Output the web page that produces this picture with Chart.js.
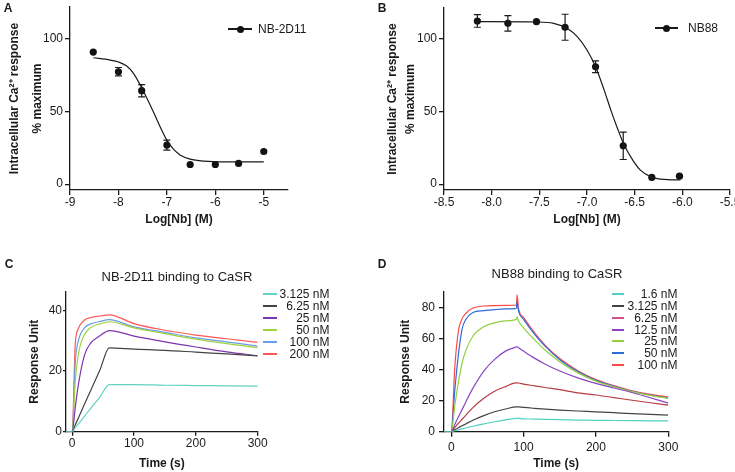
<!DOCTYPE html>
<html>
<head>
<meta charset="utf-8">
<script src="https://cdn.jsdelivr.net/npm/chart.js@4.4.1/dist/chart.umd.min.js"></script>
<style>
body { margin: 0; background: #fff; }
#wrap { position: relative; width: 735px; height: 472px; overflow: hidden; font-family: "Liberation Sans", Arial, sans-serif; color: #1a1a1a; }
canvas { position: absolute; }
.letter { position: absolute; font-weight: bold; font-size: 12px; line-height: 12px; transform: translate(-50%, -50%); }
.ttl { position: absolute; font-size: 13px; line-height: 14px; white-space: nowrap; transform: translate(-50%, -50%); }
.leg { position: absolute; font-size: 12px; line-height: 12px; white-space: nowrap; }
.seg { position: absolute; height: 2px; }
.dot { position: absolute; width: 7px; height: 7px; border-radius: 50%; background: #111; }
</style>
</head>
<body>
<div id="wrap">
  <canvas id="chartA" width="367" height="232" style="left:0;top:0"></canvas>
  <canvas id="chartB" width="368" height="232" style="left:367px;top:0"></canvas>
  <canvas id="chartC" width="367" height="240" style="left:0;top:232px"></canvas>
  <canvas id="chartD" width="368" height="240" style="left:367px;top:232px"></canvas>

  <div class="letter" style="left:8px;top:8px">A</div>
  <div class="letter" style="left:382px;top:8px">B</div>
  <div class="letter" style="left:9px;top:264px">C</div>
  <div class="letter" style="left:382px;top:264px">D</div>

  <div class="ttl" style="left:177px;top:277px">NB-2D11 binding to CaSR</div>
  <div class="ttl" style="left:557px;top:274px">NB88 binding to CaSR</div>
  <div id="legends"></div>
</div>

<script>
// ---- A: NB-2D11 dose response ----
const logNbA = [-8.52, -8, -7.52, -7, -6.52, -6, -5.52, -5];
const respA = [90.6, 77.1, 64.1, 26.8, 13.5, 13.5, 14.2, 22.4];
const errA = [0, 2.9, 4.2, 3.4, 0, 0, 0, 0];
const fitXA = [-8.52, -8.17, -8.0, -7.83, -7.69, -7.55, -7.41, -7.28, -7.14, -7.0, -6.86, -6.72, -6.52, -6.24, -5.76, -5.0];
const fitYA = [86.7, 85.1, 83.8, 81, 76, 68, 58.8, 49.7, 39.4, 30.2, 23.8, 19.9, 17.2, 15.8, 15.3, 15.3];
const xTicksA = [-9, -8, -7, -6, -5];
const yTicksAB = [0, 50, 100];

// ---- B: NB88 dose response ----
const logNbB = [-8.15, -7.83, -7.53, -7.23, -6.91, -6.62, -6.32, -6.03];
const respB = [111.9, 110.3, 111.4, 107.6, 80.5, 26.3, 4.6, 5.5];
const errB = [4.3, 5.3, 0, 8.9, 4, 9.4, 0, 0];
const fitXB = [-8.15, -7.52, -7.35, -7.21, -7.10, -7.0, -6.91, -6.82, -6.75, -6.68, -6.61, -6.52, -6.44, -6.33, -6.23, -6.12, -6.02];
const fitYB = [111.4, 111.2, 110.3, 106.9, 101, 92, 80.5, 64.5, 50.8, 38.2, 26.8, 16.5, 9.6, 5, 3.4, 3, 2.9];
const xTicksB = [-8.5, -8.0, -7.5, -7.0, -6.5, -6.0, -5.5];
const xLabelsB = ['-8.5', '-8.0', '-7.5', '-7.0', '-6.5', '-6.0', '-5.5'];

// ---- C: NB-2D11 binding (SPR) ----
const timeC = [-10, 0, 5, 10, 20, 30, 45, 60, 100, 150, 200, 250, 300];
const c3125 = [0, 0, 1.3, 2.6, 5.1, 7.7, 11.5, 15.5, 15.5, 15.3, 15.2, 15.1, 15];
const c625 = [0, 0, 2.3, 4.5, 9.1, 13.6, 20.4, 27.6, 27.2, 26.8, 26.2, 25.6, 25];
const c25 = [0, 0, 8, 15.5, 25.3, 29.2, 31.6, 33.3, 31.5, 29.6, 27.9, 26.3, 25];
const c50 = [0, 0, 16.5, 25.5, 32, 34.3, 35.5, 36.2, 34.2, 32.3, 30.5, 29, 27.7];
const c100 = [0, 0, 23, 30, 34.2, 35.5, 36.3, 36.9, 34.5, 32.7, 30.9, 29.6, 28.2];
const c200 = [0, 0, 29, 34, 36.8, 37.6, 38.1, 38.5, 35.6, 33.4, 31.8, 30.6, 29.4];
const labelsC = ['3.125 nM', '6.25 nM', '25 nM', '50 nM', '100 nM', '200 nM'];
const colorsC = ['#62d2c2', '#444444', '#7d35ad', '#a0d23e', '#6a9de3', '#ff5757'];
const yTicksC = [0, 20, 40];
const xTicksCD = [0, 100, 200, 300];

// ---- D: NB88 binding (SPR) ----
const timeD = [-10, 0, 5, 10, 15, 20, 30, 45, 60, 75, 90, 91, 93, 100, 115, 130, 150, 175, 200, 225, 250, 275, 300];
const d16 = [0, 0, 0.6, 1.2, 1.8, 2.4, 3.5, 5, 6.4, 7.6, 8.6, 8.6, 8.6, 8.3, 8.1, 7.9, 7.7, 7.5, 7.3, 7.2, 7.1, 7.0, 7.0];
const d3125 = [0, 0, 1.3, 2.6, 3.8, 5, 7.4, 10.3, 12.8, 14.6, 16, 16, 16, 15.6, 15, 14.5, 13.9, 13.3, 12.8, 12.2, 11.6, 11.1, 10.7];
const d625 = [0, 0, 2.8, 5.5, 8, 10.5, 15.5, 21.5, 26, 29, 31.4, 31.4, 31.3, 30.6, 29.5, 28.4, 27, 25, 23.6, 21.9, 20.2, 18.6, 17.1];
const d125 = [0, 0, 4.8, 9.6, 14.2, 19, 28, 39, 46.5, 51.8, 54.5, 54.6, 54.0, 51.8, 47.3, 43.4, 39, 34.6, 31.1, 28.1, 25.2, 21.8, 18.4];
const d25 = [0, 0, 17, 32, 44, 52, 61.5, 67.5, 70, 71.2, 72.2, 73.8, 71.2, 66.8, 59.2, 52.4, 45, 37.8, 32.5, 28.8, 25.8, 23.3, 21.4];
const d50 = [0, 0, 27, 50, 66, 72, 76.6, 77.8, 78.5, 78.9, 79.3, 83.5, 77.6, 72.2, 62.8, 54.8, 46.3, 38.7, 33, 29.2, 26, 23.6, 21.6];
const d100 = [0, 0, 42, 65, 72.7, 76, 79.5, 80.8, 81.1, 81.2, 81.3, 88, 79.2, 73.5, 63.7, 55.5, 47, 39.2, 33.5, 29.6, 26.3, 24, 22.3];
const labelsD = ['1.6 nM', '3.125 nM', '6.25 nM', '12.5 nM', '25 nM', '50 nM', '100 nM'];
const lineColorsD = ['#52d0c2', '#444444', '#b43c40', '#8c45c2', '#96cf3d', '#2f6cd8', '#ff4a4a'];
const legendColorsD = ['#52d0c2', '#444444', '#d0528c', '#8c45c2', '#96cf3d', '#2f6cd8', '#ff4a4a'];
const yTicksD = [0, 20, 40, 60, 80];

const INK = '#1a1a1a';
Chart.defaults.font.family = '"Liberation Sans", Arial, sans-serif';
Chart.defaults.font.size = 12;
Chart.defaults.color = INK;

const pts = (xs, ys) => xs.map((x, i) => ({ x: x, y: ys[i] }));

// vertical error bars for datasets that carry an "errors" list
const errorBars = {
    id: 'errorBars',
    afterDatasetsDraw(chart) {
        const ctx = chart.ctx;
        const xs = chart.scales.x, ys = chart.scales.y;
        chart.data.datasets.forEach(ds => {
            if (!ds.errors) return;
            ctx.save();
            ctx.strokeStyle = INK;
            ctx.lineWidth = 1.2;
            ds.data.forEach((p, i) => {
                const e = ds.errors[i];
                if (!e) return;
                const px = xs.getPixelForValue(p.x);
                const top = ys.getPixelForValue(p.y + e);
                const bot = ys.getPixelForValue(p.y - e);
                ctx.beginPath();
                ctx.moveTo(px, top); ctx.lineTo(px, bot);
                ctx.moveTo(px - 3.5, top); ctx.lineTo(px + 3.5, top);
                ctx.moveTo(px - 3.5, bot); ctx.lineTo(px + 3.5, bot);
                ctx.stroke();
            });
            ctx.restore();
        });
    }
};

function axis(o) {
    return {
        type: 'linear',
        min: o.min,
        max: o.max,
        afterBuildTicks: s => { s.ticks = o.ticks.map(v => ({ value: v })); },
        afterFit: o.fit,
        border: { display: true, color: INK, width: 1.3 },
        grid: { display: true, drawOnChartArea: false, drawTicks: true, tickLength: o.tickLength, color: INK, lineWidth: 1.3 },
        ticks: {
            autoSkip: false,
            maxRotation: 0,
            padding: o.padding,
            font: { size: 12 },
            callback: (v, i) => (o.labels ? o.labels[i] : String(o.ticks[i]))
        },
        title: {
            display: true,
            text: o.title,
            color: INK,
            font: { size: 12, weight: 'bold', lineHeight: o.lineHeight || 1.2 },
            padding: o.titlePadding
        }
    };
}

function makeChart(id, area, datasets, xo, yo) {
    const cv = document.getElementById(id);
    const w = cv.width, h = cv.height;
    xo.fit = s => { s.height = h - area.bottom; s.paddingLeft = 0; s.paddingRight = 0; };
    yo.fit = s => { s.width = area.left; s.paddingTop = 0; s.paddingBottom = 0; };
    return new Chart(cv, {
        type: 'line',
        data: { datasets: datasets },
        plugins: [errorBars],
        options: {
            responsive: false,
            animation: false,
            devicePixelRatio: 1,
            layout: { padding: { left: 0, top: area.top, right: w - area.right, bottom: 0 } },
            plugins: { legend: { display: false }, tooltip: { enabled: false } },
            scales: { x: axis(xo), y: axis(yo) }
        }
    });
}

function fitLine(xs, ys) {
    return { data: pts(xs, ys), borderColor: INK, borderWidth: 1.2, pointRadius: 0, cubicInterpolationMode: 'monotone', fill: false };
}
function dots(xs, ys, errs) {
    return { data: pts(xs, ys), errors: errs, showLine: false, pointRadius: 3.6, pointBackgroundColor: '#111', pointBorderWidth: 0 };
}
function traces(xs, series, colors) {
    return series.map((ys, i) => ({
        data: pts(xs, ys), borderColor: colors[i], borderWidth: 1.2, pointRadius: 0,
        cubicInterpolationMode: 'monotone', fill: false
    }));
}

const yTitleAB = ['Intracellular Ca\u00b2\u207a response', '% maximum'];

makeChart('chartA', { left: 70, top: 7, right: 288, bottom: 190 },
    [fitLine(fitXA, fitYA), dots(logNbA, respA, errA)],
    { min: -9, max: -4.5, ticks: xTicksA, tickLength: 5, padding: 0, title: 'Log[Nb] (M)', titlePadding: { bottom: 4.8 } },
    { min: -4, max: 121.5, ticks: yTicksAB, tickLength: 5, padding: 2, title: yTitleAB, lineHeight: 1.92, titlePadding: { top: 3.5 } });

makeChart('chartB', { left: 77, top: 8, right: 363, bottom: 190 },
    [fitLine(fitXB, fitYB), dots(logNbB, respB, errB)],
    { min: -8.5, max: -5.5, ticks: xTicksB, labels: xLabelsB, tickLength: 5, padding: 0, title: 'Log[Nb] (M)', titlePadding: { bottom: 4.8 } },
    { min: -4, max: 120.8, ticks: yTicksAB, tickLength: 5, padding: 2, title: yTitleAB, lineHeight: 1.55, titlePadding: { top: 16 } });

makeChart('chartC', { left: 66, top: 59.7, right: 257.7, bottom: 199.7 },
    traces(timeC, [c3125, c625, c25, c50, c100, c200], colorsC),
    { min: -10, max: 300, ticks: xTicksCD, tickLength: 4, padding: 1, title: 'Time (s)', titlePadding: { bottom: 1.5 } },
    { min: 0, max: 46.1, ticks: yTicksC, tickLength: 3, padding: 1, title: 'Response Unit', titlePadding: { top: 27 } });

makeChart('chartD', { left: 77, top: 59.7, right: 301.3, bottom: 199.7 },
    traces(timeD, [d16, d3125, d625, d125, d25, d50, d100], lineColorsD),
    { min: -10, max: 300, ticks: xTicksCD, tickLength: 5, padding: 4, title: 'Time (s)', titlePadding: { bottom: 1.5 } },
    { min: 0, max: 90, ticks: yTicksD, tickLength: 5, padding: 4, title: 'Response Unit', titlePadding: { top: 31 } });

// legends (HTML overlay)
const legends = document.getElementById('legends');
function add(cls, style, text) {
    const d = document.createElement('div');
    d.className = cls;
    Object.assign(d.style, style);
    if (text) d.textContent = text;
    legends.appendChild(d);
}
// A and B: line with marker
[[228, 252, 29, 258, 'NB-2D11'], [655, 678, 28, 688, 'NB88']].forEach(([x0, x1, y, tx, t]) => {
    add('seg', { left: x0 + 'px', top: (y - 0.7) + 'px', width: (x1 - x0) + 'px', height: '1.4px', background: INK });
    add('dot', { left: ((x0 + x1) / 2 - 3.5) + 'px', top: (y - 3.5) + 'px' });
    add('leg', { left: tx + 'px', top: (y - 6) + 'px' }, t);
});
// C and D: coloured segments, right-aligned labels
labelsC.forEach((t, i) => {
    const y = 293.5 + 12.1 * i;
    add('seg', { left: '263px', top: (y - 1) + 'px', width: '14px', background: colorsC[i] });
    add('leg', { right: (735 - 329.5) + 'px', top: (y - 6) + 'px', textAlign: 'right' }, t);
});
labelsD.forEach((t, i) => {
    const y = 294 + 11.85 * i;
    add('seg', { left: '612px', top: (y - 1) + 'px', width: '12px', background: legendColorsD[i] });
    add('leg', { right: (735 - 677.5) + 'px', top: (y - 6) + 'px', textAlign: 'right' }, t);
});
</script>
</body>
</html>
